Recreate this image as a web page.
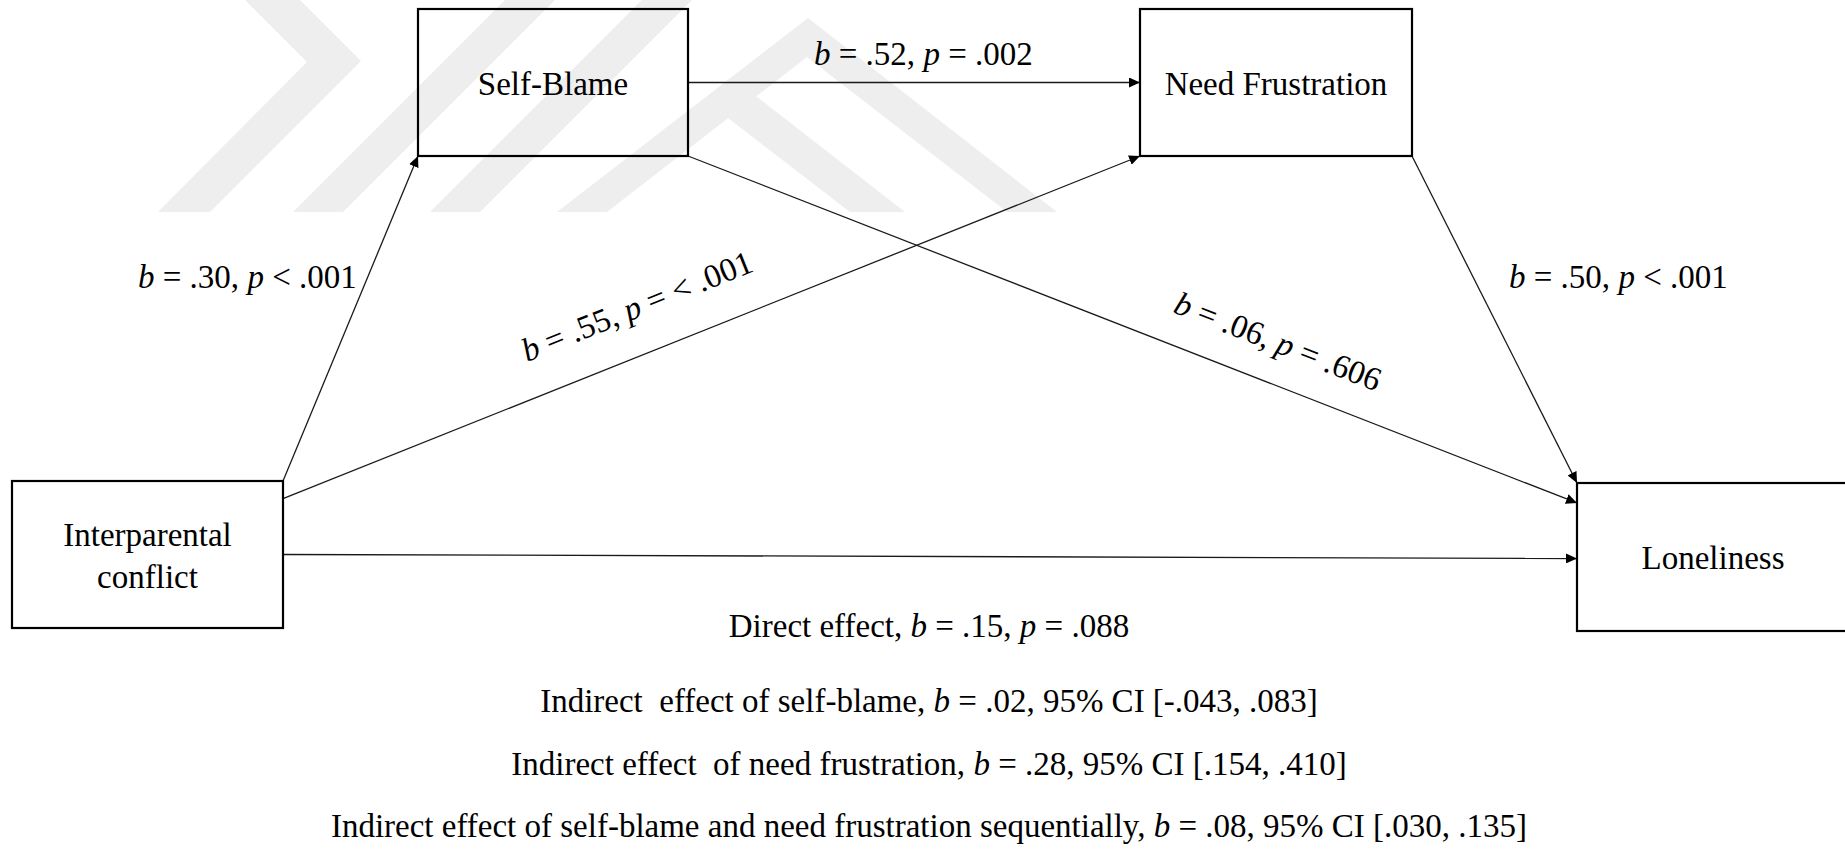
<!DOCTYPE html>
<html>
<head>
<meta charset="utf-8">
<script src="https://cdn.jsdelivr.net/npm/d3@7"></script>
<style>
  body { margin: 0; background: #fff; }
  text { font-family: "Times New Roman", "Liberation Serif", serif; fill: #000; white-space: pre; }
</style>
</head>
<body>
<div id="app"></div>
<script>
// node labels (one entry per line of text)
const nodeLines = [
  ["Interparental", "conflict"],
  ["Self-Blame"],
  ["Need Frustration"],
  ["Loneliness"],
];

// paths between nodes
const pathFrom = [0, 0, 1, 1, 2, 0];
const pathTo = [1, 2, 2, 3, 3, 3];
const pathB = [".30", ".55", ".52", ".06", ".50", ".15"];
const pathP = ["< .001", "= < .001", "= .002", "= .606", "< .001", "= .088"];

// summary lines under the model
const effectNames = [
  "Direct effect, ",
  "Indirect  effect of self-blame, ",
  "Indirect effect  of need frustration, ",
  "Indirect effect of self-blame and need frustration sequentially, ",
];
const effectB = [".15", ".02", ".28", ".08"];
const effectP = [".088", null, null, null];
const effectCI = [null, "[-.043, .083]", "[.154, .410]", "[.030, .135]"];

const width = 1845;
const height = 850;
const fontSize = 33;

// layout of the boxes
const boxes = [
  { x: 12, y: 481, w: 271, h: 147 },
  { x: 418, y: 9, w: 270, h: 147 },
  { x: 1140, y: 9, w: 272, h: 147 },
  { x: 1577, y: 483, w: 272, h: 148 },
];

// where each arrow leaves / enters a box, as fractions of the box
const pathAnchors = [
  [[1, 0], [0, 1]],
  [[1, 0.12], [0, 1]],
  [[1, 0.5], [0, 0.5]],
  [[1, 1], [0, 0.135]],
  [[1, 1], [0, 0]],
  [[1, 0.5], [0, 0.51]],
];

// label placement for each path (null = no label on the arrow)
const labelPos = [
  { x: 138, y: 288, along: false },
  { x: 527, y: 362, along: true },
  { x: 814, y: 65, along: false },
  { x: 1172, y: 312, along: true },
  { x: 1509, y: 288, along: false },
  null,
];

const summaryX = 929;
const summaryY = [637, 712, 775, 837];

const svg = d3
  .select("#app")
  .append("svg")
  .attr("width", width)
  .attr("height", height)
  .attr("viewBox", [0, 0, width, height]);

svg.append("rect").attr("width", width).attr("height", height).attr("fill", "#fff");

//watermark
const watermark = [
  [[245, 0], [300, 0], [361, 61], [210, 212], [158, 212], [307, 62]],
  [[293, 212], [343, 212], [555, 0], [505, 0]],
  [[430, 212], [480, 212], [692, 0], [642, 0]],
  [[557, 212], [808, 18], [1057, 212], [1007, 212], [807, 57], [607, 212]],
  [[850, 212], [905, 212], [756, 96], [728, 118]],
];
svg
  .append("g")
  .selectAll("polygon")
  .data(watermark)
  .join("polygon")
  .attr("points", (d) => d.map((p) => p.join(",")).join(" "))
  .attr("fill", "#eeeeee");

//arrow head
svg
  .append("defs")
  .append("marker")
  .attr("id", "arrow")
  .attr("viewBox", "0 0 11 10")
  .attr("refX", 11)
  .attr("refY", 5)
  .attr("markerWidth", 11)
  .attr("markerHeight", 10)
  .attr("markerUnits", "userSpaceOnUse")
  .attr("orient", "auto")
  .append("path")
  .attr("d", "M0,0L11,5L0,10Z")
  .attr("fill", "#000");

const anchor = (i, a) => [boxes[i].x + a[0] * boxes[i].w, boxes[i].y + a[1] * boxes[i].h];

const edges = pathFrom.map((f, i) => {
  const s = anchor(f, pathAnchors[i][0]);
  const t = anchor(pathTo[i], pathAnchors[i][1]);
  return { i, s, t, b: pathB[i], p: pathP[i] };
});

//arrows
svg
  .append("g")
  .selectAll("line")
  .data(edges)
  .join("line")
  .attr("x1", (d) => d.s[0])
  .attr("y1", (d) => d.s[1])
  .attr("x2", (d) => d.t[0])
  .attr("y2", (d) => d.t[1])
  .attr("stroke", "#1a1a1a")
  .attr("stroke-width", 1.3)
  .attr("marker-end", "url(#arrow)");

//boxes
const nodeG = svg
  .append("g")
  .selectAll("g")
  .data(nodeLines)
  .join("g")
  .attr("transform", (d, i) => `translate(${boxes[i].x},${boxes[i].y})`);

nodeG
  .append("rect")
  .attr("width", (d, i) => boxes[i].w)
  .attr("height", (d, i) => boxes[i].h)
  .attr("fill", "none")
  .attr("stroke", "#000")
  .attr("stroke-width", 2.2);

nodeG
  .selectAll("text")
  .data((d, i) => d.map((line, j) => ({ line, j, n: d.length, box: boxes[i] })))
  .join("text")
  .attr("x", (d) => d.box.w / 2)
  .attr("y", (d) => d.box.h / 2 + 12 + (d.j - (d.n - 1) / 2) * 42)
  .attr("text-anchor", "middle")
  .attr("font-size", fontSize)
  .text((d) => d.line);

//path labels
const labelled = edges.filter((d) => labelPos[d.i]);

const labels = svg
  .append("g")
  .selectAll("text")
  .data(labelled)
  .join("text")
  .attr("font-size", fontSize)
  .attr("transform", (d) => {
    const pos = labelPos[d.i];
    const angle = pos.along
      ? (Math.atan2(d.t[1] - d.s[1], d.t[0] - d.s[0]) * 180) / Math.PI
      : 0;
    return `translate(${pos.x},${pos.y}) rotate(${angle})`;
  });

labels.append("tspan").attr("font-style", "italic").text("b");
labels.append("tspan").text((d) => ` = ${d.b}, `);
labels.append("tspan").attr("font-style", "italic").text("p");
labels.append("tspan").text((d) => ` ${d.p}`);

//summary
const summary = svg
  .append("g")
  .selectAll("text")
  .data(effectNames)
  .join("text")
  .attr("x", summaryX)
  .attr("y", (d, i) => summaryY[i])
  .attr("text-anchor", "middle")
  .attr("font-size", fontSize);

summary.append("tspan").text((d) => d);
summary.append("tspan").attr("font-style", "italic").text("b");
summary.append("tspan").text((d, i) =>
  effectP[i] ? ` = ${effectB[i]}, ` : ` = ${effectB[i]}, 95% CI ${effectCI[i]}`
);
summary
  .filter((d, i) => effectP[i])
  .append("tspan")
  .attr("font-style", "italic")
  .text("p");
summary
  .filter((d, i) => effectP[i])
  .append("tspan")
  .text((d, i) => ` = ${effectP[effectNames.indexOf(d)]}`);
</script>
</body>
</html>
